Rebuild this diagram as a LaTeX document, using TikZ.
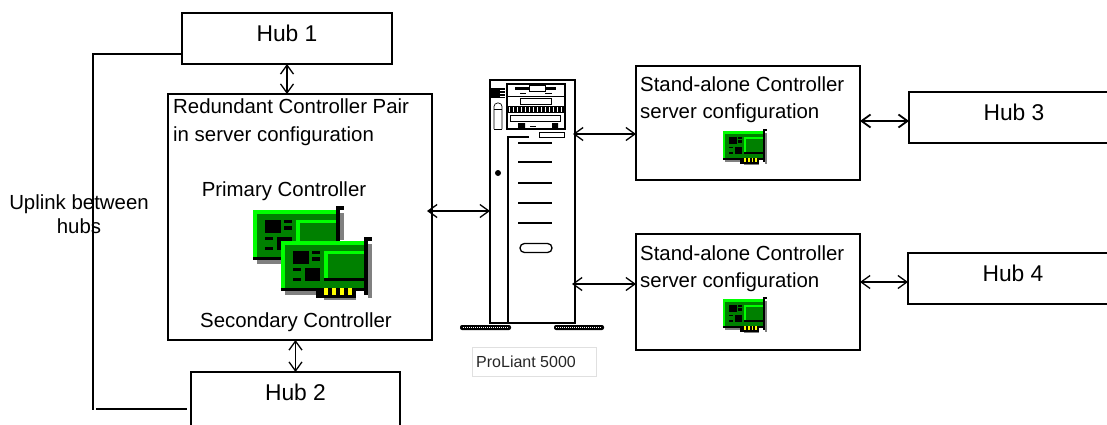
\documentclass[tikz,border=0pt]{standalone}
\usepackage{fontspec}
\setmainfont{Liberation Sans}
\usetikzlibrary{arrows.meta}
\definecolor{cardbright}{RGB}{0,255,0}
\definecolor{carddark}{RGB}{0,128,0}
\definecolor{cardshade}{RGB}{128,128,128}
\definecolor{cardgold}{RGB}{255,255,0}
\newcommand{\px}[5][black]{\fill[#1] (#2,#3) rectangle (#4,#5);}
\newcommand{\cardbody}{%
  \px[cardbright]{153}{153}{402}{295}
  \px[carddark]{165}{165}{402}{295}
  \px{153}{295}{402}{303}
  \px{402}{141}{414}{315}
  \px{402}{141}{426}{153}
  \px{189}{183}{237}{222}
  \px{246}{183}{270}{192}
  \px{246}{201}{270}{213}
  \px{189}{234}{213}{243}
  \px{225}{234}{270}{273}
  \px{189}{264}{213}{273}
  \px[cardbright]{282}{183}{402}{192}
  \px[cardbright]{282}{183}{294}{264}
  \px{282}{264}{402}{273}
}
\newcommand{\cardback}[4]{%
  \begin{scope}[shift={(#1,#2)},x=#3pt,y=-#4pt]
    \px[cardshade]{414}{162}{426}{243}
    \px[cardshade]{165}{303}{402}{315}
    \cardbody
  \end{scope}}
\newcommand{\cardfront}[4]{%
  \begin{scope}[shift={(#1,#2)},x=#3pt,y=-#4pt]
    \px[cardshade]{414}{162}{426}{323}
    \px[cardshade]{165}{303}{270}{315}
    \px[cardshade]{282}{323}{378}{331}
    \cardbody
    \px{258}{295}{378}{323}
    \px[cardgold]{282}{295}{294}{315}
    \px[cardgold]{306}{295}{318}{315}
    \px[cardgold]{330}{295}{342}{315}
    \px[cardgold]{354}{295}{366}{315}
    \px{258}{315}{378}{323}
  \end{scope}}
\tikzset{
  boxline/.style={draw=black,line width=1.5pt,inner sep=0pt,outer sep=0pt},
  hubbox/.style={boxline,minimum width=210pt,text height=28pt,text depth=23pt,font=\fontsize{22.8}{26}\selectfont},
  panel/.style={boxline,anchor=north west},
  label20/.style={inner sep=0pt,font=\fontsize{20.4}{25}\selectfont},
  link/.style={line width=1.3pt,{Straight Barb[length=9pt,width=13pt]}-{Straight Barb[length=9pt,width=13pt]}},
  heavylink/.style={link,line width=1.8pt},
  plain/.style={line width=1.3pt},
  unit/.style={line width=1.6pt},
}
\begin{document}
\begin{tikzpicture}[x=1pt,y=-1pt]
\useasboundingbox (0,0) rectangle (1107,424);
\clip (0,0) rectangle (1107,424);

% hubs
\node[hubbox,anchor=north west] (hub1) at (182,13) {Hub 1};
\node[hubbox,anchor=north west,minimum width=209pt,text depth=40pt] (hub2) at (191,372) {Hub 2};
\node[hubbox,anchor=north west] (hub3) at (909,92) {Hub 3};
\node[hubbox,anchor=north west] (hub4) at (908,253) {Hub 4};

% panels
\node[panel,minimum width=264pt,minimum height=246pt] (red) at (168,94) {};
\node[panel,minimum width=224pt,minimum height=114pt] (sa1) at (636,66) {};
\node[panel,minimum width=224pt,minimum height=116pt] (sa2) at (636,234) {};

% panel text
\node[label20,anchor=base west] (t1) at (173,113) {Redundant Controller Pair};
\node[label20,anchor=base west] (t2) at (173,141) {in server configuration};
\node[label20,anchor=base] (t3) at (284,196) {Primary Controller};
\node[label20,anchor=base] (t4) at (296,327) {Secondary Controller};
\node[label20,anchor=base west] (t5) at (640,91) {Stand-alone Controller};
\node[label20,anchor=base west] (t6) at (640,118) {server configuration};
\node[label20,anchor=base west] (t7) at (640,260) {Stand-alone Controller};
\node[label20,anchor=base west] (t8) at (640,287) {server configuration};
\node[label20,anchor=base] (t9) at (79,209) {Uplink between};
\node[label20,anchor=base] (t10) at (79,233) {hubs};

% cards
\cardback{202}{159}{0.3333}{0.3333}
\cardfront{230}{190}{0.3333}{0.3333}
\cardfront{698.4}{102.2}{0.161}{0.19}
\cardfront{698.4}{270.2}{0.161}{0.19}

% server
\node[unit,draw=black,anchor=north west,minimum width=85pt,minimum height=243pt,inner sep=0pt,outer sep=0pt] (server) at (490,80) {};
\draw[unit] (529,137) -- (508,137) -- (508,322);
\foreach \yy in {143,162,183,203,223} \draw[line width=1.5pt] (518,\yy) -- (552,\yy);
\draw[line width=1.3pt,rounded corners=4.4pt] (520,243.5) rectangle (552,252.5);
\fill (498,173) circle (3);
% drive bays
\draw[line width=1.3pt] (507,84) rectangle (565,129);
\draw[line width=1pt] (507,96) -- (565,96);
\fill (507,106) rectangle (565,113);
\foreach \xx in {509,513,...,563} \draw[white,line width=.5pt] (\xx,107) -- (\xx,112);
\fill (515,87) rectangle (556,90);
\fill[white,draw=black,line width=.6pt] (529,85.5) rectangle (545,91.5);
\draw[line width=.8pt] (520,93) -- (526,93) (545,93) -- (552,93);
\draw[line width=.8pt] (520,98) rectangle (551,104);
\draw[line width=.9pt] (510,115) rectangle (560,121);
\fill (518,123) rectangle (525,128) (552,123) rectangle (558,128);
\draw[line width=.7pt] (530,126) -- (536,126);
\fill (507,127.5) rectangle (565,129.5);
\draw[line width=.9pt] (539,132) rectangle (564,137);
% vent and column
\fill (491,88) rectangle (505,98);
\foreach \yy in {90,93,96} \draw[white,line width=.6pt] (500,\yy) -- (505,\yy);
\draw[line width=.7pt,rounded corners=3.5pt] (494,129) -- (494,103) -- (502,103) -- (502,129);
\draw[line width=.7pt] (494,109) -- (502,109) (494,129) -- (502,129);
% feet
\fill[rounded corners=2pt] (460,325) rectangle (511,330);
\fill[rounded corners=2pt] (554,325) rectangle (604,330);
\draw[white,line width=1.8pt,dash pattern=on .8pt off 1.2pt] (463,327.5) -- (509,327.5) (556,327.5) -- (601,327.5);

% ProLiant label
\node[draw=black!12,line width=.8pt,anchor=north west,minimum width=124pt,minimum height=29pt,inner sep=0pt] (plbox) at (472,347) {};
\node[inner sep=0pt,anchor=base west,font=\fontsize{16}{19}\selectfont,text=black!85] (pl) at (476,367) {ProLiant 5000};

% connectors
\coordinate (upA) at (93,54);
\coordinate (upB) at (93,410);
\coordinate (lowA) at (96,409);
\coordinate (lowB) at (187,409);
\draw[plain] (hub1.west |- upA) -- (upA) -- (upB);
\draw[plain] (lowA) -- (lowB);
\draw[link] (hub1.south) -- (hub1.south |- red.north);
\draw[link] (hub2.north) -- (hub2.north |- red.south);
\coordinate (pa) at (427,211);
\coordinate (pb) at (573,134);
\coordinate (pc) at (572,284);
\draw[link] (pa) -- (server.west |- pa);
\draw[link] (pb) -- (sa1.west |- pb);
\draw[link] (pc) -- (sa2.west |- pc);
\coordinate (pe) at (860,121);
\draw[heavylink] (pe) -- (hub3.west |- pe);
\coordinate (pd) at (860,282);
\draw[link] (pd) -- (hub4.west |- pd);
\end{tikzpicture}
\end{document}
